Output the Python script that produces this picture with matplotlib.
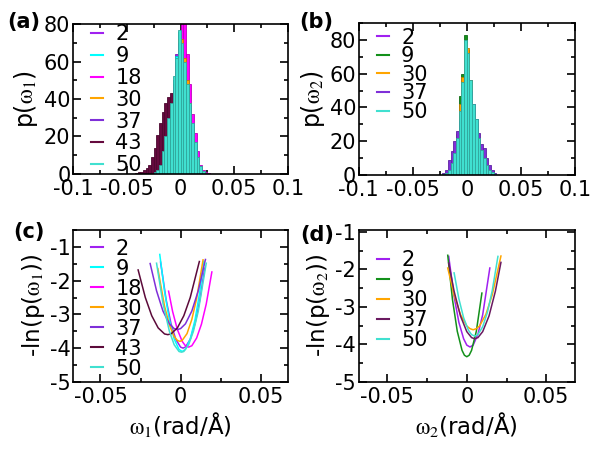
import numpy as np
import matplotlib
matplotlib.use("Agg")
import matplotlib.pyplot as plt
from matplotlib.ticker import MultipleLocator
from matplotlib.colors import to_rgb

plt.rcParams['font.family'] = ['DejaVu Sans']
plt.rcParams['mathtext.fontset'] = 'stix'
plt.rcParams['axes.unicode_minus'] = False

# ---------------- data ----------------
# histogram bins (left edges), width 0.0025
bin_left = [-0.045, -0.0425, -0.04, -0.0375, -0.035, -0.0325, -0.03, -0.0275,
            -0.025, -0.0225, -0.02, -0.0175, -0.015, -0.0125, -0.01, -0.0075,
            -0.005, -0.0025, 0.0, 0.0025, 0.005, 0.0075, 0.01, 0.0125,
            0.015, 0.0175, 0.02, 0.0225, 0.025, 0.0275, 0.03, 0.0325]
bin_width = 0.0025

labels_a = ['2', '9', '18', '30', '37', '43', '50']
hist_a_2 = [0, 0, 0, 0, 0, 0, 0, 0, 0, 0, 2, 7, 15, 25, 36, 50, 64, 74, 69, 59, 47, 35, 24, 14, 7, 3, 1, 0, 0, 0, 0, 0]
hist_a_9 = [0, 0, 0, 0, 0, 0, 0, 0, 0, 1, 4, 10, 18, 28, 37, 50, 63, 76, 71, 58, 46, 36, 25, 15, 8, 3, 1, 0, 0, 0, 0, 0]
hist_a_18 = [0, 0, 0, 0, 0, 0, 0, 0, 0, 0, 0, 0, 0, 1, 3, 8, 18, 40, 82, 86, 64, 48, 32, 22, 12, 5, 2, 1, 0.5, 0, 0, 0]
hist_a_30 = [0, 0, 0, 0, 0, 0, 0, 0, 0, 0, 1, 5, 12, 22, 33, 46, 60, 72, 72, 62, 50, 38, 26, 15, 7, 3, 1, 0, 0, 0, 0, 0]
hist_a_37 = [0, 0, 0, 0, 0, 0, 0, 0, 0, 1, 4, 9, 17, 27, 36, 48, 60, 70, 66, 57, 47, 37, 26, 16, 8, 3, 1, 0, 0, 0, 0, 0]
hist_a_43 = [0, 0.5, 1, 1, 2, 3, 5, 9, 14, 21, 27, 33, 38, 41, 43, 40, 32, 22, 12, 5, 2, 0.5, 0, 0, 0, 0, 0, 0, 0, 0, 0, 0]
hist_a_50 = [0, 0, 0, 0, 0, 0, 0, 0, 1, 2, 5, 12, 20, 30, 38, 52, 62, 77, 70, 60, 48, 38, 27, 17, 9, 4, 1.5, 0.5, 0, 0, 0, 0]
colors_a = ['#a020f0', '#00ffff', '#ff00ff', '#ffa500', '#7f2fd8', '#650a3e', '#40e0d0']

labels_b = ['2', '9', '30', '37', '50']
hist_b_2 = [0, 0, 0, 0, 0, 0, 0, 0, 0, 0, 0, 2, 5, 12, 22, 36, 55, 76, 74, 56, 42, 30, 20, 12, 6, 3, 1, 0, 0, 0, 0, 0]
hist_b_9 = [0, 0, 0, 0, 0, 0, 0, 0, 0, 0, 0, 0, 2, 6, 18, 47, 60, 83, 74, 55, 35, 22, 12, 6, 2, 1, 0, 0, 0, 0, 0, 0]
hist_b_30 = [0, 0, 0, 0, 0, 0, 0, 0, 0, 0, 0, 1, 4, 10, 24, 42, 58, 78, 75, 56, 40, 28, 18, 10, 5, 2, 1, 0, 0, 0, 0, 0]
hist_b_37 = [0, 0, 0, 0, 0, 0, 0, 0, 0, 1, 3, 9, 14, 20, 26, 32, 45, 60, 58, 50, 40, 33, 25, 18, 16, 10, 6, 3, 1, 0, 0, 0]
hist_b_50 = [0, 0, 0, 0, 0, 0, 0, 0, 0, 0.5, 1, 3, 7, 13, 22, 38, 55, 80, 72, 56, 42, 33, 22, 15, 10, 6, 3, 1.5, 0.5, 0, 0, 0]
colors_b = ['#a020f0', '#13901a', '#ffa500', '#7f2fd8', '#40e0d0']

# panel (c): -ln p(omega1) curves
labels_c = ['2', '9', '18', '30', '37', '43', '50']
c_x_2 = [-0.0125, -0.009, -0.006, -0.003, 0.0, 0.0015, 0.003, 0.006, 0.009, 0.012, 0.015]
c_y_2 = [-1.45, -2.57, -3.27, -3.74, -3.97, -4.0, -3.97, -3.74, -3.27, -2.57, -1.63]
c_x_9 = [-0.013, -0.01, -0.007, -0.004, -0.001, 0.001, 0.003, 0.006, 0.009, 0.012, 0.0145]
c_y_9 = [-1.22, -2.32, -3.16, -3.73, -4.04, -4.1, -4.04, -3.73, -3.16, -2.32, -1.42]
c_x_18 = [-0.0075, -0.005, -0.002, 0.001, 0.003, 0.005, 0.007, 0.01, 0.013, 0.016, 0.0195]
c_y_18 = [-2.31, -2.91, -3.45, -3.8, -3.93, -3.97, -3.93, -3.7, -3.29, -2.69, -1.74]
c_x_30 = [-0.0142, -0.01, -0.007, -0.004, -0.002, -0.0005, 0.001, 0.004, 0.007, 0.01, 0.014]
c_y_30 = [-1.64, -2.76, -3.31, -3.66, -3.77, -3.8, -3.77, -3.57, -3.15, -2.53, -1.38]
c_x_37 = [-0.019, -0.015, -0.011, -0.007, -0.004, -0.002, 0.0, 0.003, 0.007, 0.011, 0.0155]
c_y_37 = [-1.49, -2.3, -2.9, -3.28, -3.42, -3.45, -3.42, -3.28, -2.9, -2.3, -1.37]
c_x_43 = [-0.0265, -0.022, -0.018, -0.014, -0.01, -0.008, -0.006, -0.002, 0.002, 0.006, 0.0117]
c_y_43 = [-1.68, -2.5, -3.04, -3.4, -3.58, -3.6, -3.58, -3.4, -3.04, -2.5, -1.43]
c_x_50 = [-0.015, -0.011, -0.007, -0.004, -0.001, 0.0005, 0.002, 0.005, 0.008, 0.011, 0.016]
c_y_50 = [-1.48, -2.67, -3.5, -3.9, -4.1, -4.12, -4.1, -3.9, -3.5, -2.91, -1.48]
colors_c = ['#a020f0', '#00ffff', '#ff00ff', '#ffa500', '#7f2fd8', '#5c0a3a', '#40e0d0']

# panel (d): -ln p(omega2) curves
labels_d = ['2', '9', '30', '37', '50']
d_x_2 = [-0.0114, -0.008, -0.005, -0.002, 0.0, 0.002, 0.004, 0.007, 0.01, 0.0145]
d_y_2 = [-1.65, -2.72, -3.41, -3.85, -4.02, -4.07, -4.02, -3.73, -3.21, -1.96]
d_x_9 = [-0.012, -0.009, -0.006, -0.003, -0.0015, 0.0, 0.0015, 0.003, 0.006, 0.0095]
d_y_9 = [-1.62, -2.81, -3.65, -4.16, -4.29, -4.33, -4.29, -4.16, -3.65, -2.63]
d_x_30 = [-0.012, -0.008, -0.004, 0.0, 0.002, 0.004, 0.006, 0.008, 0.012, 0.016, 0.0215]
d_y_30 = [-1.96, -2.68, -3.2, -3.51, -3.58, -3.61, -3.58, -3.51, -3.2, -2.68, -1.64]
d_x_37 = [-0.0114, -0.008, -0.004, 0.0, 0.003, 0.005, 0.007, 0.01, 0.014, 0.018, 0.0215]
d_y_37 = [-1.83, -2.58, -3.24, -3.66, -3.82, -3.85, -3.82, -3.66, -3.24, -2.58, -1.81]
d_x_50 = [-0.008, -0.005, -0.002, 0.001, 0.003, 0.005, 0.007, 0.01, 0.013, 0.016, 0.0196]
d_y_50 = [-2.09, -2.78, -3.29, -3.62, -3.74, -3.78, -3.74, -3.53, -3.14, -2.57, -1.65]
colors_d = ['#a020f0', '#13901a', '#ffa500', '#6a1a60', '#40e0d0']

xticks_top = [-0.1, -0.05, 0, 0.05, 0.1]
xticklabels_top = ['-0.1', '-0.05', '0', '0.05', '0.1']
yticks_top = [0, 20, 40, 60, 80]
xticks_bot = [-0.05, 0, 0.05]
xticklabels_bot = ['-0.05', '0', '0.05']
yticks_bot = [-5, -4, -3, -2, -1]

# ---------------- figure ----------------
fig = plt.figure(figsize=(6.0, 4.54), dpi=100)
axa = fig.add_axes([0.122, 0.617, 0.358, 0.330])
axb = fig.add_axes([0.598, 0.615, 0.360, 0.334])
axc = fig.add_axes([0.122, 0.159, 0.358, 0.334])
axd = fig.add_axes([0.598, 0.159, 0.360, 0.334])

TICK_FS = 15
LAB_FS = 16.5
LEG_FS = 15


def dark(c, f=0.6):
    r, g, b = to_rgb(c)
    return (r * f, g * f, b * f)


def style(ax, xminor, ymin):
    ax.tick_params(which='both', direction='in', top=True, right=True,
                   labelsize=TICK_FS, width=1.2)
    ax.tick_params(axis='x', which='both', pad=4)
    ax.tick_params(axis='y', which='both', pad=2)
    ax.tick_params(which='major', length=5.5)
    ax.tick_params(which='minor', length=3)
    ax.xaxis.set_minor_locator(MultipleLocator(xminor))
    ax.yaxis.set_minor_locator(MultipleLocator(ymin))
    for s in ax.spines.values():
        s.set_linewidth(1.2)


def legend(ax, anchor, spacing):
    leg = ax.legend(loc='upper left', bbox_to_anchor=anchor, frameon=False,
                    fontsize=LEG_FS, handlelength=0.55, handletextpad=0.6,
                    labelspacing=spacing, borderaxespad=0, borderpad=0)
    for h in leg.legend_handles:
        h.set_linewidth(1.5)


# (a)
hists_a = [hist_a_2, hist_a_9, hist_a_18, hist_a_30, hist_a_37, hist_a_43, hist_a_50]
for h, c, lab in zip(hists_a, colors_a, labels_a):
    axa.bar(bin_left, h, width=bin_width, align='edge', color=c,
            edgecolor=dark(c, 0.75), linewidth=0.6, zorder=2)
    axa.plot([], [], color=c, label=lab)
axa.set_xlim(-0.1, 0.1)
axa.set_ylim(0, 80)
axa.set_xticks(xticks_top)
axa.set_xticklabels(xticklabels_top)
axa.set_yticks(yticks_top)
style(axa, 0.025, 10)
axa.set_ylabel(r'p($\mathrm{\omega}_1$)', fontsize=17, labelpad=3)
legend(axa, (0.085, 1.0), 0.09)

# (b)
hists_b = [hist_b_2, hist_b_9, hist_b_30, hist_b_37, hist_b_50]
for h, c, lab in zip(hists_b, colors_b, labels_b):
    axb.bar(bin_left, h, width=bin_width, align='edge', color=c,
            edgecolor=dark(c, 0.75), linewidth=0.6, zorder=2)
    axb.plot([], [], color=c, label=lab)
axb.set_xlim(-0.1, 0.1)
axb.set_ylim(0, 90)
axb.set_xticks(xticks_top)
axb.set_xticklabels(xticklabels_top)
axb.set_yticks(yticks_top)
style(axb, 0.025, 10)
axb.set_ylabel(r'p($\mathrm{\omega}_2$)', fontsize=17, labelpad=2)
legend(axb, (0.085, 0.97), -0.07)

# (c)
cx = [c_x_2, c_x_9, c_x_18, c_x_30, c_x_37, c_x_43, c_x_50]
cy = [c_y_2, c_y_9, c_y_18, c_y_30, c_y_37, c_y_43, c_y_50]
for x, y, c, lab in zip(cx, cy, colors_c, labels_c):
    axc.plot(x, y, color=c, lw=1.1, label=lab)
axc.set_xlim(-0.067, 0.067)
axc.set_ylim(-5, -0.5)
axc.set_xticks(xticks_bot)
axc.set_xticklabels(xticklabels_bot)
axc.set_yticks(yticks_bot)
style(axc, 0.025, 0.5)
axc.set_ylabel(r'-ln(p($\mathrm{\omega}_1$))', fontsize=LAB_FS, labelpad=2)
axc.set_xlabel(r'$\mathrm{\omega}_1$(rad/Å)', fontsize=LAB_FS, labelpad=2)
legend(axc, (0.085, 0.945), 0.0)

# (d)
dx = [d_x_2, d_x_9, d_x_30, d_x_37, d_x_50]
dy = [d_y_2, d_y_9, d_y_30, d_y_37, d_y_50]
for x, y, c, lab in zip(dx, dy, colors_d, labels_d):
    axd.plot(x, y, color=c, lw=1.1, label=lab)
axd.set_xlim(-0.068, 0.068)
axd.set_ylim(-5, -0.95)
axd.set_xticks(xticks_bot)
axd.set_xticklabels(xticklabels_bot)
axd.set_yticks(yticks_bot)
style(axd, 0.025, 0.5)
axd.set_ylabel(r'-ln(p($\mathrm{\omega}_2$))', fontsize=LAB_FS, labelpad=2)
axd.set_xlabel(r'$\mathrm{\omega}_2$(rad/Å)', fontsize=LAB_FS, labelpad=2)
legend(axd, (0.085, 0.87), 0.0)

# panel letters
fig.text(0.012, 0.952, '(a)', fontsize=15, fontweight='bold', va='center')
fig.text(0.498, 0.952, '(b)', fontsize=15, fontweight='bold', va='center')
fig.text(0.022, 0.488, '(c)', fontsize=15, fontweight='bold', va='center')
fig.text(0.501, 0.483, '(d)', fontsize=15, fontweight='bold', va='center')

fig.savefig('out.png', dpi=100)
